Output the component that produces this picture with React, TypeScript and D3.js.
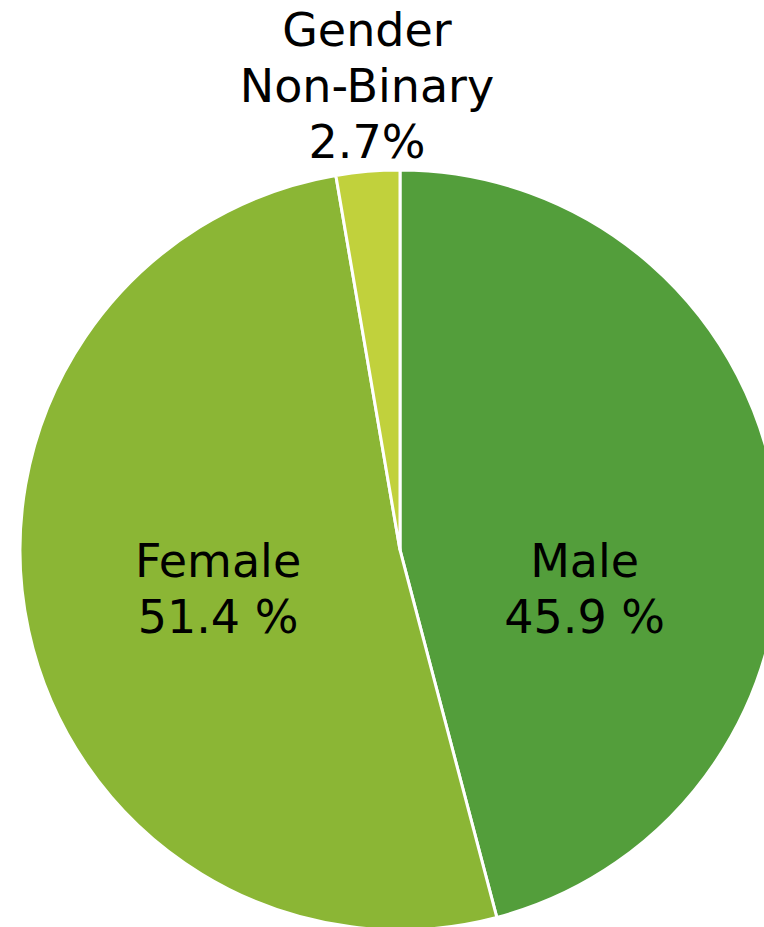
import React from 'react';
import * as d3 from 'd3';

const categories = ['Male', 'Female', 'Gender Non-Binary'];
const values = [45.9, 51.4, 2.7];
const valueLabels = ['45.9 %', '51.4 %', '2.7%'];
const nameLines = [['Male'], ['Female'], ['Gender', 'Non-Binary']];
const swatches = ['#539e3b', '#8bb635', '#c1d13c'];

const W = 764;
const H = 927;
const cx = 400;
const cy = 550;
const radius = 380;
const fontSize = 46;
const lineH = 56;

const App = () => {
  const pie = d3.pie<number>().sort(null).value(d => d)(values);
  const arc = d3.arc<d3.PieArcDatum<number>>().innerRadius(0).outerRadius(radius);
  const labelArc = d3.arc<d3.PieArcDatum<number>>().innerRadius(radius * 0.49).outerRadius(radius * 0.49);

  return (
    <svg width={W} height={H} style={{ position: 'absolute', left: 0, top: 0 }}>
      <rect width={W} height={H} fill="#fff" />
      <g transform={`translate(${cx},${cy})`}>
        {pie.map((d, i) => (
          <path key={i} d={arc(d) || ''} fill={swatches[i]} stroke="#fff" strokeWidth={3} />
        ))}
        {pie.map((d, i) => {
          const lines = [...nameLines[i], valueLabels[i]];
          const outside = d.endAngle - d.startAngle < 0.3;
          if (outside) {
            // label sits above the slice, last line resting on the rim
            const mid = (d.startAngle + d.endAngle) / 2;
            const x = Math.sin(mid) * (radius + 10);
            const yBase = -radius - 12;
            return (
              <text key={i} textAnchor="middle" fontSize={fontSize} fontFamily="DejaVu Sans" fill="#000">
                {lines.map((l, j) => (
                  <tspan key={j} x={x} y={yBase - (lines.length - 1 - j) * lineH}>{l}</tspan>
                ))}
              </text>
            );
          }
          const [x] = labelArc.centroid(d);
          return (
            <text key={i} textAnchor="middle" fontSize={fontSize} fontFamily="DejaVu Sans" fill="#000">
              {lines.map((l, j) => (
                <tspan key={j} x={x} y={27 + j * lineH}>{l}</tspan>
              ))}
            </text>
          );
        })}
      </g>
    </svg>
  );
};

export default App;
